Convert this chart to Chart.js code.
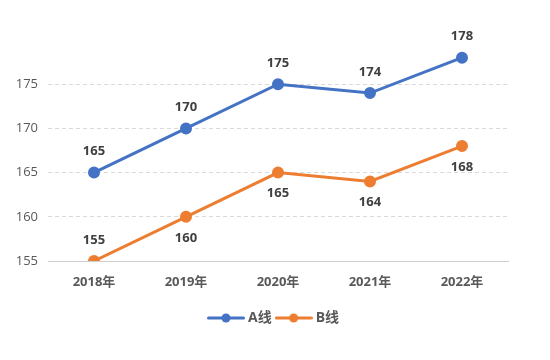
<!DOCTYPE html>
<html><head><meta charset="utf-8">
<script src="https://cdn.jsdelivr.net/npm/chart.js@4"></script>
<style>html,body{margin:0;padding:0;background:#fff}#wrap{width:550px;height:360px}</style>
</head><body><div id="wrap"><canvas id="c"></canvas></div>
<script>
const categories = ['2018年','2019年','2020年','2021年','2022年'];
const seriesA = [165,170,175,174,178];
const seriesB = [155,160,165,164,168];
const yTicks = [155,160,165,170,175];
const labelPosB = ['above','below','below','below','below'];

const FONT = '"Open Sans","Noto Sans CJK SC",sans-serif';

function legendIcon(color){
  const c = document.createElement('canvas');
  c.width = 38; c.height = 12;
  const x = c.getContext('2d');
  x.strokeStyle = color; x.lineWidth = 3; x.lineCap='round';
  x.beginPath(); x.moveTo(1.5,6); x.lineTo(36.5,6); x.stroke();
  x.fillStyle = color; x.beginPath(); x.arc(19,6,4.5,0,Math.PI*2); x.fill();
  return c;
}

const dataLabels = {
  id:'dataLabels',
  afterDatasetsDraw(chart){
    const ctx = chart.ctx;
    ctx.save();
    ctx.font = 'bold 13px '+FONT;
    ctx.fillStyle = '#404040';
    ctx.textAlign = 'center';
    ctx.textBaseline = 'middle';
    chart.data.datasets.forEach((ds,di)=>{
      const meta = chart.getDatasetMeta(di);
      meta.data.forEach((pt,i)=>{
        const pos = di===0 ? 'above' : labelPosB[i];
        const dy = pos==='above' ? -21 : 21;
        ctx.fillText(String(ds.data[i]), pt.x, pt.y+dy);
      });
    });
    ctx.restore();
  }
};

new Chart(document.getElementById('c'),{
  type:'line',
  data:{
    labels:categories,
    datasets:[
      {label:'A线',data:seriesA,borderColor:'#4472C4',backgroundColor:'#4472C4',borderWidth:3,pointRadius:4.5,pointHoverRadius:4.5,pointStyle:'circle',tension:0},
      {label:'B线',data:seriesB,borderColor:'#ED7D31',backgroundColor:'#ED7D31',borderWidth:3,pointRadius:4.5,pointHoverRadius:4.5,pointStyle:'circle',tension:0}
    ]
  },
  options:{
    responsive:true,maintainAspectRatio:false,animation:false,
    layout:{padding:{top:40,right:0,bottom:25,left:0}},
    plugins:{
      tooltip:{enabled:false},
      legend:{
        position:'bottom',
        labels:{
          usePointStyle:true,
          pointStyleWidth:30,
          boxHeight:12,
          padding:7,
          color:'#595959',
          font:{family:FONT,size:14,weight:'bold'},
          generateLabels(chart){
            return chart.data.datasets.map((ds,i)=>({
              text:ds.label,fillStyle:ds.borderColor,strokeStyle:ds.borderColor,
              pointStyle:legendIcon(ds.borderColor),datasetIndex:i,hidden:false,lineWidth:0,fontColor:'#595959'
            }));
          }
        }
      }
    },
    scales:{
      x:{
        offset:true,
        grid:{display:false},
        border:{display:true,color:'#d0d0d0',width:1},
        ticks:{color:'#595959',font:{family:FONT,size:13,weight:'bold'},padding:5},
        afterFit(s){s.height=43;}
      },
      y:{
        min:155,max:180,
        afterBuildTicks(s){s.ticks = yTicks.map(v=>({value:v}));},
        grid:{color:'#d9d9d9',lineWidth:1,drawTicks:false},
        border:{display:false,dash:[4,3]},
        ticks:{color:'#595959',font:{family:FONT,size:13},padding:10},
        afterFit(s){s.width=48;}
      },
      y2:{
        position:'right',
        display:true,
        grid:{display:false,drawTicks:false},
        border:{display:false},
        ticks:{display:false},
        afterFit(s){s.width=42;}
      }
    }
  },
  plugins:[dataLabels]
});
</script></body></html>
